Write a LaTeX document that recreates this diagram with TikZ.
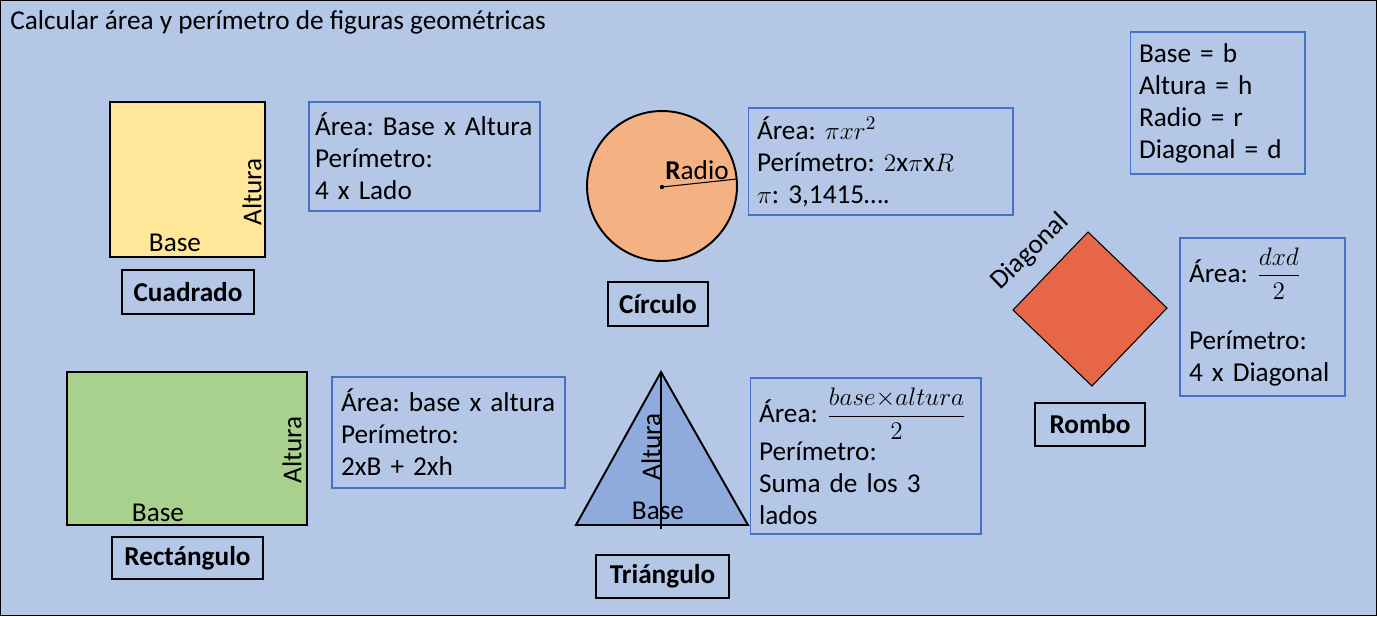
\documentclass[tikz,border=0pt]{standalone}
\usepackage{amsmath}
\usepackage{fontspec}
\setmainfont{Carlito}
\usepackage{tikz}
\usetikzlibrary{positioning, calc}
\definecolor{fondo}{HTML}{B4C7E7}
\definecolor{cuadcol}{HTML}{FFE699}
\definecolor{circcol}{HTML}{F4B183}
\definecolor{rectcol}{HTML}{A9D18E}
\definecolor{tricol}{HTML}{8FAADC}
\definecolor{rombcol}{HTML}{E76647}
\definecolor{bordeazul}{HTML}{4472C4}
\newcommand{\infofont}{%
  \fontsize{15.5}{18.2}\selectfont\frenchspacing
  \spaceskip=0.2em plus 0.1em minus 0.05em\relax}
\newcommand{\fracinfo}[2]{{\fontsize{13.5}{16}\selectfont$\dfrac{#1}{#2}$}}
\tikzset{
  txt/.style={
    font=\fontsize{15.5}{18.2}\selectfont, inner sep=0pt
  },
  infobox/.style={
    draw=bordeazul, line width=0.6pt, align=left,
    font=\infofont, inner xsep=0.18cm
  },
  namebox/.style={
    draw=black, line width=0.6pt, align=center,
    font=\fontsize{15.5}{18.2}\selectfont\bfseries
  },
  figline/.style={
    draw=black, line width=1.1pt
  },
}

\begin{document}
\begin{tikzpicture}[x=0.02cm, y=-0.02cm]
  % Fondo
  \useasboundingbox (0,0) rectangle (1377,616);
  \draw[fill=fondo, line width=0.8pt] (0.7,0.7) rectangle (1376.3,615.3);
  \node[txt, anchor=west] (titulo) at (10,22)
    {Calcular área y perímetro de figuras geométricas};

  % Leyenda
  \node[infobox, text width=3.14cm, minimum height=2.84cm]
    (leyenda) at (1217.5,103) {
    Base = b\\Altura = h\\Radio = r\\Diagonal = d
  };

  % Cuadrado
  \node[figline, fill=cuadcol, minimum width=3.1cm, minimum height=3.1cm]
    (cuad) at (187.5,179.5) {};
  \node[txt] (cuadbase) at (175,243) {Base};
  \node[txt, rotate=90] (cuadalt) at (252,192) {Altura};
  \node[namebox, minimum width=2.64cm, minimum height=0.88cm]
    (cuadname) at (188,292) {Cuadrado};
  \node[infobox, inner xsep=0.12cm, text width=4.38cm, minimum height=2.18cm]
    (cuadinfo) at (424.5,156.5) {
    Área: Base x Altura\\Perímetro:\\4 x Lado
  };

  % Circulo
  \node[figline, circle, fill=circcol, minimum size=3cm]
    (circ) at (662,186) {};
  \fill (662,187) circle (2.2);
  \coordinate (radfin) at (737,179);
  \draw[line width=0.6pt] (662,187) -- (radfin);
  \node[txt] (radio) at (697,170) {\textbf{R}adio};
  \node[namebox, minimum width=2cm, minimum height=0.88cm]
    (circname) at (658,304) {Círculo};
  \node[infobox, text width=4.94cm, minimum height=2.14cm]
    (circinfo) at (880.5,161.5) {
    Área: $\pi x r^2$\\Perímetro: $2\mathrm{x}\pi\mathrm{x}R$\\$\pi$: 3,1415….
  };

  % Rombo
  \coordinate (rtop) at (1088,232);
  \coordinate (rright) at (1167,308);
  \coordinate (rbot) at (1092,386);
  \coordinate (rleft) at (1013,310);
  \draw[fill=rombcol, line width=0.6pt] (rtop) -- (rright) -- (rbot) -- (rleft) -- cycle;
  \node[txt, rotate=44] (rombdiag) at (1030,252) {Diagonal};
  \node[namebox, minimum width=2.2cm, minimum height=0.86cm]
    (rombname) at (1090,424.5) {Rombo};
  \node[infobox, text width=2.94cm, minimum height=3.16cm]
    (rombinfo) at (1262.5,317) {
    Área: \fracinfo{dxd}{2}\\[0.6cm]Perímetro:\\4 x Diagonal
  };

  % Rectangulo
  \node[figline, fill=rectcol, minimum width=4.8cm, minimum height=3.06cm]
    (rect) at (187,448.5) {};
  \node[txt] (rectbase) at (158,513) {Base};
  \node[txt, rotate=90] (rectalt) at (292,450) {Altura};
  \node[namebox, minimum width=3.02cm, minimum height=0.84cm]
    (rectname) at (187.5,558) {Rectángulo};
  \node[infobox, text width=4.3cm, minimum height=2.22cm]
    (rectinfo) at (448.5,432.5) {
    Área: base x altura\\Perímetro:\\2xB + 2xh
  };

  % Triangulo
  \coordinate (tapex) at (661,372);
  \coordinate (tright) at (748,525);
  \coordinate (tleft) at (576,525);
  \coordinate (tpie) at (661,529);
  \draw[figline, fill=tricol] (tapex) -- (tright) -- (tleft) -- cycle;
  \draw[line width=0.6pt] (tapex) -- (tpie);
  \node[txt, rotate=90] (trialt) at (651,447) {Altura};
  \node[txt] (tribase) at (658,511) {Base};
  \node[namebox, minimum width=2.66cm, minimum height=0.86cm]
    (triname) at (662.5,576.5) {Triángulo};
  \node[infobox, text width=4.26cm, minimum height=3.12cm]
    (triinfo) at (865.5,456) {
    Área: \fracinfo{base{\times}altura}{2}\\Perímetro:\\Suma de los 3\\lados
  };
\end{tikzpicture}
\end{document}
